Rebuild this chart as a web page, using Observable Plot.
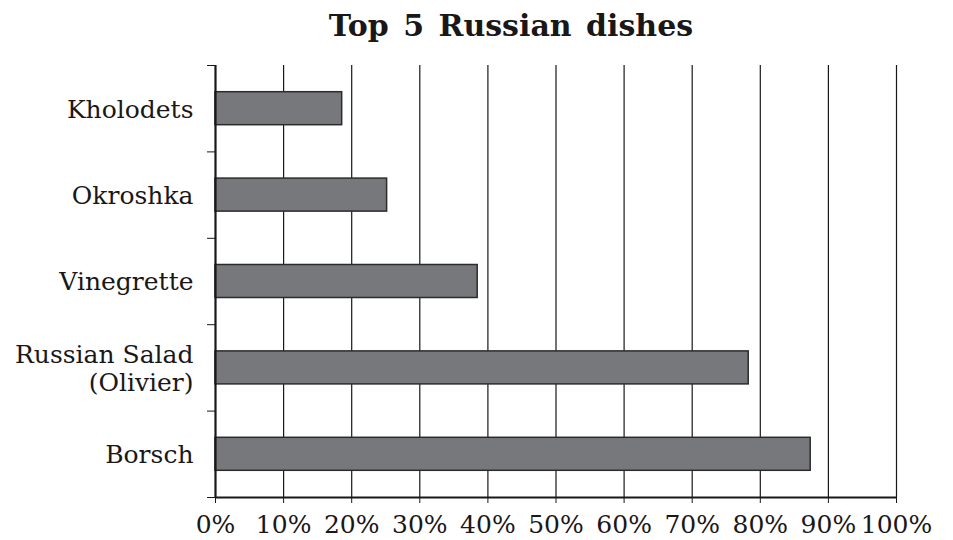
<!DOCTYPE html>
<html><head><meta charset="utf-8">
<script src="https://cdn.jsdelivr.net/npm/d3@7"></script>
<script src="https://cdn.jsdelivr.net/npm/@observablehq/plot@0.6"></script>
<style>
body{margin:0;background:#fff;font-family:"DejaVu Serif",serif;color:#1a1718}
#title{height:55px;box-sizing:border-box;padding:8px 0 0 69px;text-align:center;font-weight:bold;font-size:30px;line-height:36px;word-spacing:4px;white-space:nowrap}
</style></head><body>
<div id="title">Top 5 Russian dishes</div>
<div id="chart"></div>
<script>
const dishes = ["Kholodets", "Okroshka", "Vinegrette", "Russian Salad\n(Olivier)", "Borsch"];
const shares = [18.6, 25.2, 38.5, 78.3, 87.4];
const xTicks = [0, 10, 20, 30, 40, 50, 60, 70, 80, 90, 100];
const data = dishes.map((name, i) => ({name, i, value: shares[i]}));
const ink = "#1a1718";
const chart = Plot.plot({
  width: 953, height: 485,
  marginLeft: 215, marginRight: 57, marginTop: 10, marginBottom: 43,
  style: {fontFamily: "DejaVu Serif", fontSize: "25px", color: ink, background: "#fff"},
  x: {domain: [0, 100], label: null},
  y: {domain: [0, 5], reverse: true, label: null},
  marks: [
    Plot.ruleX(xTicks.filter(d => d > 0), {stroke: ink, strokeWidth: 1.2}),
    Plot.rectX(data, {x1: 0, x2: "value", y1: "i", y2: d => d.i + 1, insetTop: 26.7, insetBottom: 26.7, fill: "#77787c", stroke: "#2b2b2b", strokeWidth: 1.5}),
    Plot.axisX({ticks: xTicks, tickFormat: d => d + "%", tickSize: 6, tickPadding: 12, stroke: ink, fill: ink, label: null}),
    Plot.axisY({ticks: d3.range(6), tickFormat: () => "", tickSize: 8, stroke: ink, label: null}),
    Plot.ruleX([0], {stroke: ink, strokeWidth: 2.2}),
    Plot.ruleY([5], {stroke: ink, strokeWidth: 2.2}),
    Plot.text(data, {x: 0, y: d => d.i + 0.5, text: "name", textAnchor: "end", dx: -22, lineHeight: 1.12, fontSize: 25, fill: ink})
  ]
});
document.getElementById("chart").append(chart);
</script>
</body></html>
